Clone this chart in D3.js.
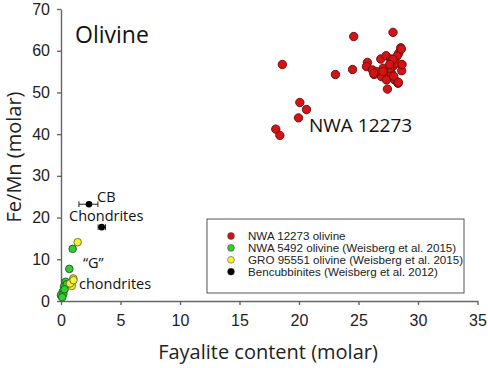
<!DOCTYPE html>
<html><head><meta charset="utf-8">
<script src="https://cdn.jsdelivr.net/npm/d3@7"></script>
<style>body{margin:0;background:#fff}svg{display:block}</style>
</head><body>
<script>
// NWA 12273 olivine [fayalite, Fe/Mn]
const nwa12273 = [
 [18.6,56.7],[24.6,63.4],[27.9,64.4],[23.06,54.3],[24.5,55.5],[20.07,47.6],[20.63,45.9],[19.96,43.9],
 [18.05,41.2],[18.39,39.7],[25.75,57.2],[25.67,56.2],[26.17,55.4],[26.31,54.3],[26.87,58.0],[27.32,58.8],
 [27.71,58.0],[28.55,60.7],[28.38,59.4],[28.24,58.7],[28.6,56.6],[28.63,55.2],[27.9,56.3],[27.35,55.0],
 [27.77,54.6],[26.78,54.6],[26.93,53.8],[27.35,53.0],[28.04,53.0],[28.32,52.2],[27.43,50.8],[27.96,53.9],
 [27.62,55.8],[27.07,55.8],[26.5,55.0],[27.77,57.4],[28.13,57.0],[28.6,60.4],[28.66,56.7],[27.9,57.9],
 [27.62,56.7],[27.07,55.0],[26.28,54.6],[28.35,52.4]
];
const nwa5492 = [[0.98,12.5],[0.7,7.7],[0.39,4.6],[0.25,3.4],[0.48,4.0],[0.14,2.2],[0.0,1.4],[0.2,1.7],[0.3,2.8],[0.1,0.9]];
const gro95551 = [[1.4,14.1],[1.03,5.4],[0.95,4.6],[0.9,3.6],[0.76,4.2],[1.05,5.0]];
// Bencubbinites [x, y, xErrLow, xErrHigh]
const bencubbinites = [[2.35,23.2,1.51,3.1],[3.42,17.7,3.12,3.74]];
const xTicks = [0,5,10,15,20,25,30,35];
const yTicks = [0,10,20,30,40,50,60,70];
const legendLabels = ["NWA 12273 olivine","NWA 5492 olivine (Weisberg et al. 2015)","GRO 95551 olivine (Weisberg et al. 2015)","Bencubbinites (Weisberg et al. 2012)"];
const legendColors = ["#d41414","#33cc33","#f2f230","#000000"];

const W=488,H=368;
const svg=d3.select("body").append("svg").attr("width",W).attr("height",H);
const x=d3.scaleLinear().domain([0,35]).range([61,477.5]);
const y=d3.scaleLinear().domain([0,70]).range([301,9]);
const axisColor="#666";
const font="'Liberation Sans', Arial, sans-serif";
const annFont="'Open Sans', 'Noto Sans', sans-serif";

const gx=svg.append("g").attr("transform","translate(0,301)")
 .call(d3.axisBottom(x).tickValues(xTicks).tickSize(4).tickSizeOuter(0).tickPadding(10));
const gy=svg.append("g").attr("transform","translate(61,0)")
 .call(d3.axisLeft(y).tickValues(yTicks).tickSize(4).tickSizeOuter(0).tickPadding(7));
[gx,gy].forEach(g=>{
 g.selectAll("path,line").attr("stroke",axisColor).attr("stroke-width",1.4);
 g.selectAll("text").attr("font-family",font).attr("font-size",16).attr("fill","#222");
});

svg.append("text").attr("x",268).attr("y",359).attr("text-anchor","middle")
 .attr("font-family",annFont).attr("font-size",20).attr("fill","#222").text("Fayalite content (molar)");
svg.append("text").attr("transform","translate(21,157) rotate(-90)").attr("text-anchor","middle")
 .attr("font-family",annFont).attr("font-size",20).attr("fill","#222").text("Fe/Mn (molar)");

// points
svg.append("g").selectAll("circle").data(nwa12273).join("circle")
 .attr("cx",d=>x(d[0])).attr("cy",d=>y(d[1])).attr("r",4.2)
 .attr("fill","#d41414").attr("stroke","#6a0a0a").attr("stroke-width",0.9);
svg.append("g").selectAll("circle").data(nwa5492).join("circle")
 .attr("cx",d=>x(d[0])).attr("cy",d=>y(d[1])).attr("r",3.8)
 .attr("fill","#33cc33").attr("stroke","#1a5a1a").attr("stroke-width",0.9);
svg.append("g").selectAll("circle").data(gro95551).join("circle")
 .attr("cx",d=>x(d[0])).attr("cy",d=>y(d[1])).attr("r",3.8)
 .attr("fill","#f2f230").attr("stroke","#6a6a20").attr("stroke-width",0.9);
const gb=svg.append("g");
bencubbinites.forEach(d=>{
 gb.append("line").attr("x1",x(d[2])).attr("x2",x(d[3])).attr("y1",y(d[1])).attr("y2",y(d[1])).attr("stroke","#222").attr("stroke-width",1);
 [d[2],d[3]].forEach(v=>gb.append("line").attr("x1",x(v)).attr("x2",x(v)).attr("y1",y(d[1])-2.8).attr("y2",y(d[1])+2.8).attr("stroke","#222").attr("stroke-width",1));
 gb.append("circle").attr("cx",x(d[0])).attr("cy",y(d[1])).attr("r",3.3).attr("fill","#000");
});

// annotations
svg.append("text").attr("x",75).attr("y",43).attr("font-family",annFont).attr("font-size",23).attr("fill","#111").text("Olivine");
svg.append("text").attr("x",309).attr("y",132).attr("font-family",annFont).attr("font-size",19).attr("fill","#111").text("NWA 12273");
svg.append("text").attr("x",97).attr("y",201.5).attr("font-family",annFont).attr("font-size",14.5).attr("fill","#111").text("CB");
svg.append("text").attr("x",69).attr("y",221).attr("font-family",annFont).attr("font-size",14.5).attr("fill","#111").text("Chondrites");
svg.append("text").attr("x",83).attr("y",268).attr("font-family",annFont).attr("font-size",14.5).attr("fill","#111").text("\u201cG\u201d");
svg.append("text").attr("x",79).attr("y",289).attr("font-family",annFont).attr("font-size",14.5).attr("fill","#111").text("chondrites");

// legend
const lg=svg.append("g");
lg.append("rect").attr("x",207).attr("y",219).attr("width",257).attr("height",74).attr("fill","#fff").attr("stroke","#555").attr("stroke-width",1);
legendLabels.forEach((t,i)=>{
 const yy=236+i*11.9;
 lg.append("circle").attr("cx",231).attr("cy",yy).attr("r",3.4).attr("fill",legendColors[i]).attr("stroke","#333").attr("stroke-width",0.5);
 lg.append("text").attr("x",248).attr("y",yy+4).attr("font-family",font).attr("font-size",11.6).attr("fill","#222").text(t);
});
</script>
</body></html>
